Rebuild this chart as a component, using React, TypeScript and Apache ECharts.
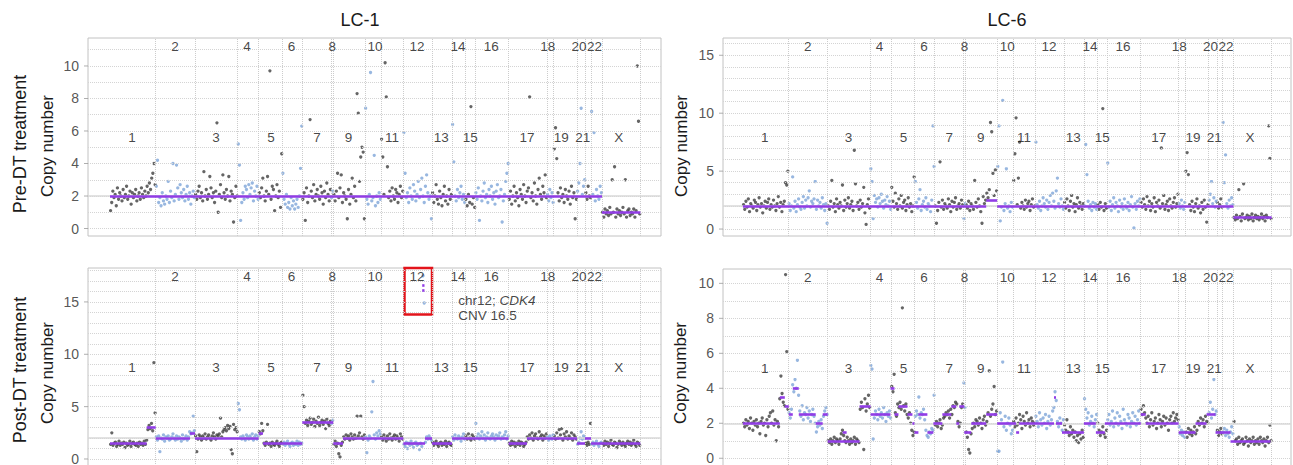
import React, { useEffect, useRef } from "react";
import * as echarts from "echarts";

const FONT = '"Liberation Sans", Arial, Helvetica, sans-serif';

// chromosome layout (bin index units along the genome)
const chromosomes = ["1","2","3","4","5","6","7","8","9","10","11","12","13","14","15","16","17","18","19","20","21","22","X"];
const chromEnds = [457, 850, 1277, 1487, 1723, 1923, 2210, 2233, 2550, 2710, 2933, 3220, 3420, 3553, 3653, 3987, 4370, 4437, 4670, 4753, 4810, 4920, 5303];
const labelPos = [220, 650, 1060, 1370, 1610, 1815, 2070, 2223, 2385, 2650, 2820, 3070, 3313, 3480, 3603, 3813, 4170, 4377, 4513, 4690, 4727, 4845, 5087];

// ---------- LC-1, Pre-DT treatment: copy number per bin, per chromosome ----------
const lc1Pre = [
  "1.1 1.6 2.3 1.9 2.1 1.4 2.5 1.8 2.2 2.0 1.7 2.4 1.9 2.1 2.6 1.8 2.0 2.3 1.5 2.2 1.9 2.1 2.4 1.7 2.0 2.2 1.8 2.5 2.1 1.9 2.3 2.0 2.6 2.2 2.8 2.4 3.1 3.4 4.0 2.7",
  "2.6 4.2 1.6 1.9 1.4 2.2 1.7 1.5 2.0 1.8 2.9 1.6 2.3 1.9 4.0 1.7 2.1 3.9 2.5 1.8 2.7 2.2 1.9 2.4 1.7 2.1 2.6 1.8 2.2 1.5 2.0 2.3 1.9",
  "2.1 1.8 2.3 2.6 1.9 2.2 1.7 3.5 2.0 2.4 1.8 2.1 3.2 2.5 1.9 2.2 1.6 2.3 6.5 1.0 2.1 2.7 1.9 3.3 2.2 1.8 2.4 2.0 3.2 1.7 2.3 2.1 0.4 1.9 2.6 2.0",
  "5.2 3.9 0.5 1.6 2.2 1.8 2.6 2.4 1.9 2.7 2.1 2.5 2.8 1.7 2.3 2.0 2.6 1.8",
  "2.2 1.9 2.5 3.1 2.0 1.7 2.3 3.2 2.1 9.7 1.8 2.6 2.4 1.1 2.0 2.7 1.9 2.3 1.3 4.6",
  "3.4 1.8 1.5 2.1 1.3 1.6 1.2 1.9 1.4 1.7 1.2 1.5 1.8 1.3 2.0 3.7 6.3",
  "1.8 2.2 0.5 2.5 1.6 2.0 6.7 2.3 1.9 2.7 1.7 2.1 2.4 2.0 1.8 2.6 2.2 1.5 2.3 1.9 2.8 2.1 1.7 2.4",
  "1.9 2.3",
  "2.1 1.7 2.3 3.4 1.9 2.5 3.3 1.6 2.2 2.0 1.8 0.6 2.4 1.5 2.1 3.1 1.9 2.6 1.7 8.3 7.1 2.9 4.4 5.0 4.7 0.6",
  "7.4 1.8 1.5 2.1 9.6 1.7 1.9 4.5 1.4 2.0 1.6 2.2 1.8",
  "5.5 4.4 2.1 10.2 8.1 3.8 1.9 2.3 1.7 2.5 2.0 1.8 2.4 2.2 1.6 2.1 2.6 1.9 2.3",
  "5.9 3.4 1.9 2.2 1.6 2.5 2.0 1.8 2.7 2.3 1.7 2.1 2.9 1.9 2.4 3.1 2.0 1.6 2.6 3.3 2.2 1.8 2.0 0.6",
  "2.2 1.6 2.0 2.7 1.8 1.5 2.3 1.9 1.4 2.1 2.6 1.7 2.0 1.5 2.4 1.8 2.1",
  "6.4 4.1 2.0 1.7 2.4 1.9 2.2 2.6 1.8 2.1 1.6",
  "1.8 1.4 2.1 1.6 7.5 1.5 1.9 1.3",
  "2.2 1.8 2.5 0.5 2.0 1.7 2.3 2.8 1.9 2.1 1.6 2.4 2.0 2.6 1.8 2.2 1.5 2.3 2.7 1.9 2.0 2.4 0.4 1.7 2.1 2.9 3.4 4.0",
  "1.8 2.3 1.5 2.0 2.6 1.7 2.2 1.9 1.4 2.4 2.1 1.8 2.7 2.0 1.6 2.3 2.5 8.1 1.9 2.2 1.7 2.8 2.0 1.5 2.4 3.1 2.1 1.8 2.6 2.2 3.3 1.9",
  "2.1 1.7 2.4 1.9 2.2 1.6",
  "4.9 6.2 4.3 2.2 1.7 2.5 1.9 2.1 1.6 2.4 2.0 1.8 2.3 1.5 2.6 1.9 2.2 0.6 1.8",
  "2.3 2.8 4.0 7.4 2.1 2.6 3.0",
  "2.2 1.8 2.6 2.0 1.9",
  "7.2 2.1 5.9 1.7 2.4 2.0 1.8 2.6 2.2",
  "1.0 0.7 1.2 0.9 1.1 0.8 1.3 0.9 3.0 1.0 3.8 0.7 1.2 0.9 1.1 0.8 1.0 1.3 0.9 3.0 0.7 1.1 1.2 0.8 1.0 0.9 1.2 0.7 1.1 10.0 6.6 0.9",
];
const lc1PreSegments = [[0, 4920, 2.0], [4920, 5303, 1.0]];

// ---------- LC-6, Pre-DT treatment ----------
const lc6Pre = [
  "2.1 1.7 2.4 1.9 2.6 1.5 2.2 2.0 1.8 2.5 2.3 1.6 2.1 2.7 1.9 2.2 1.4 2.0 2.4 1.8 2.3 2.6 1.7 2.1 1.9 2.5 2.0 1.6 2.2 2.8 1.9 2.3 1.5 2.1 2.4 4.0 3.8 5.0",
  "2.2 1.6 2.0 4.5 1.8 2.4 1.5 2.1 2.6 1.9 1.7 2.3 2.8 1.8 2.5 2.0 2.7 3.3 1.9 2.4 2.2 2.6 4.1 1.7 2.5 2.0 2.3 1.8 2.7 2.1 1.6 2.2 0.5",
  "2.0 1.7 2.4 4.2 1.9 2.2 1.5 2.6 2.1 1.8 2.3 2.0 3.8 1.6 2.5 1.9 2.2 2.7 1.8 2.1 2.4 1.6 6.8 3.9 2.0 2.3 1.7 2.5 1.9 2.2 3.6 1.4 0.4 2.1 2.6 1.8",
  "5.2 4.1 0.9 2.9 2.3 2.6 1.9 2.7 2.2 3.0 2.4 1.8 2.5 2.1 2.8 2.0 2.4 1.7",
  "3.6 2.4 1.9 3.1 2.2 1.7 2.6 2.0 2.9 1.8 2.3 2.5 1.6 2.1 2.7 1.9 2.2 1.5 2.0 4.5",
  "4.1 2.3 1.8 2.6 3.4 1.6 2.1 2.4 1.9 2.7 1.7 2.2 2.0 1.5 2.5 8.9 5.4",
  "2.0 0.5 1.6 2.3 5.8 1.9 2.5 1.7 2.2 2.0 1.8 2.6 2.1 1.5 2.4 1.9 2.3 2.7 1.7 2.0 2.2 1.8 2.5 2.1",
  "0.9 2.2",
  "2.1 1.8 2.4 1.6 2.2 2.0 1.7 4.2 2.3 1.9 2.6 2.0 1.5 0.5 2.8 2.2 2.5 3.1 2.7 3.4 9.2 8.4 4.8 2.9 5.1 3.3",
  "5.4 8.9 0.7 1.9 11.1 1.6 2.2 5.2 1.8 2.0 1.5 2.3 1.9",
  "4.2 6.5 9.6 2.1 4.4 7.5 1.8 2.3 2.0 1.7 2.5 1.9 2.2 2.4 1.6 2.1 2.6 1.9 2.0",
  "7.5 2.1 1.8 2.4 1.6 2.0 2.7 2.2 1.9 2.5 1.7 2.3 2.9 2.0 3.1 2.4 1.8 3.3 4.4 2.2 1.9 2.6 2.0 1.7",
  "2.3 1.8 2.6 2.0 1.6 2.4 2.9 1.9 2.2 1.5 2.1 2.7 1.8 2.3 2.0 1.7 2.2",
  "2.0 7.3 4.7 2.4 1.8 2.1 1.6 2.3 1.9 2.2 1.7",
  "2.1 1.7 2.3 1.9 10.4 1.6 2.2 1.8",
  "5.7 1.9 2.4 1.6 2.1 2.7 1.8 2.3 2.0 1.5 2.5 1.9 2.2 1.7 2.6 2.0 1.8 2.3 1.6 2.1 2.8 1.9 0.1 2.2 1.7 2.4 2.0 2.6",
  "2.3 1.9 2.6 2.1 1.7 2.8 2.0 2.4 1.6 2.2 1.9 2.7 1.5 2.3 2.0 2.5 1.8 7.0 2.2 2.9 1.7 2.1 2.4 1.6 2.6 2.0 1.8 2.3 2.7 1.9 2.2 3.0",
  "2.2 1.8 2.5 2.0 1.7 2.3",
  "5.0 6.6 4.7 2.1 1.6 2.4 1.9 1.5 2.2 2.6 1.8 2.0 1.4 2.3 1.7 2.5 1.9 0.6 2.1",
  "2.5 3.0 4.1 2.2 2.7 1.9 2.4",
  "2.3 1.8 2.1 2.6 1.9",
  "9.2 4.0 6.4 2.2 1.8 2.5 2.0 2.7 2.1",
  "1.0 0.8 1.2 0.9 3.4 1.1 0.7 1.3 3.9 0.9 1.0 1.2 0.8 1.1 0.9 1.3 0.7 1.0 1.2 0.9 1.1 0.8 1.0 1.3 0.9 1.1 0.7 1.2 1.0 8.9 6.1 0.9",
];
const lc6PreSegments = [[0, 2440, 2.0], [2440, 2550, 2.5], [2550, 4920, 2.0], [4920, 5303, 1.0]];

// ---------- LC-1, Post-DT treatment ----------
const lc1Post = [
  "1.4 2.5 1.3 1.5 1.6 1.2 1.4 1.7 1.3 1.5 1.4 1.6 1.1 1.5 1.3 1.4 1.7 1.2 1.5 1.6 1.4 1.3 1.5 1.2 1.6 1.4 1.5 1.3 1.7 1.4 1.8 2.8 3.2 2.9 3.4 2.7 9.2 4.4",
  "2.1 1.8 2.2 0.7 2.0 1.9 2.3 1.7 2.1 2.0 2.2 1.8 1.9 2.1 2.4 2.0 1.8 2.2 1.9 2.1 2.0 1.7 2.3 1.9 2.0 2.2 1.8 2.1 2.6 2.4 2.5 4.1 2.7",
  "2.2 0.7 1.9 2.3 2.1 1.8 2.2 2.0 2.4 1.9 2.1 2.3 2.0 1.8 2.2 2.5 2.1 1.9 2.3 2.2 2.4 3.9 2.1 2.6 2.8 3.0 2.7 3.2 2.9 3.1 0.9 0.5 3.3 2.8 3.0 2.6",
  "5.3 4.7 2.1 1.9 2.2 2.0 1.8 2.3 2.1 1.9 2.2 2.0 2.4 1.8 2.1 2.3 1.9 2.2",
  "2.6 2.4 3.4 2.7 1.5 1.3 1.6 3.3 1.4 1.5 1.2 1.6 1.4 1.3 1.5 1.7 1.4 1.2 1.5 1.6",
  "1.4 1.6 1.3 1.5 1.7 1.4 1.2 1.5 1.6 1.3 1.5 1.4 1.7 1.3 1.6 1.4 1.5",
  "6.1 5.0 3.4 3.7 3.2 3.6 3.9 3.3 3.5 3.8 3.1 3.6 3.4 4.0 3.2 3.5 3.7 3.3 3.6 2.9 3.8 3.4 3.2 3.6",
  "3.4 3.7",
  "1.4 1.7 1.2 1.5 0.5 0.2 1.3 1.6 2.1 1.9 2.3 2.0 2.2 1.8 2.4 2.1 1.9 2.3 2.0 4.1 2.2 2.5 4.1 2.1 1.9 2.3",
  "2.1 0.6 1.8 2.2 2.0 4.5 7.4 2.3 1.9 2.5 2.2 2.7 2.4",
  "2.1 1.8 2.3 2.0 1.7 2.2 1.9 2.4 2.0 1.8 2.1 2.3 1.9 2.2 2.0 1.7 2.4 2.1 1.9",
  "1.4 1.2 1.6 1.0 1.5 1.3 1.7 1.4 1.1 1.5 1.6 1.3 1.4 0.9 1.5 1.2 17.5 14.9 1.6 2.1 1.9 2.2 2.0 1.8",
  "1.6 1.3 1.5 1.7 1.4 1.2 1.5 1.6 1.3 1.5 1.4 1.7 1.2 1.5 1.6 1.4 1.3",
  "2.1 1.8 2.3 2.0 1.9 2.2 2.0 1.7 2.1 2.4 1.9",
  "2.2 1.9 2.4 2.0 1.8 2.3 2.1 1.9",
  "3.4 2.1 2.4 1.9 2.2 2.6 2.0 2.3 1.8 2.1 2.5 2.0 1.9 2.2 2.4 2.1 1.8 2.3 2.0 2.2 2.5 1.9 2.1 2.0 2.3 2.6 1.9 2.2",
  "1.5 1.3 1.7 1.4 1.6 1.2 1.5 1.4 1.7 1.3 1.6 1.5 1.2 1.4 1.6 2.1 1.9 2.3 2.0 2.5 1.8 2.2 2.4 2.0 1.9 2.6 2.1 2.3 1.8 2.2 2.0 2.4",
  "2.1 1.8 2.2 2.0 1.9 2.3",
  "2.2 1.9 2.5 2.0 2.8 2.3 2.9 1.8 2.4 2.1 2.6 1.9 2.2 2.0 2.5 1.8 2.3 2.1 1.9",
  "1.4 1.6 2.0 2.6 1.9 2.2 2.0",
  "1.5 1.3 1.6 1.4 3.4",
  "1.4 1.6 1.3 1.5 1.7 1.4 1.2 1.5 1.6",
  "1.5 1.3 1.7 1.4 1.6 1.2 1.5 1.8 1.4 1.3 1.6 1.5 1.1 1.4 1.7 1.5 1.3 1.6 1.4 1.2 1.5 1.7 1.4 1.6 1.3 1.5 1.8 1.4 1.2 1.6 1.5 1.3",
];
const lc1PostSegments = [
  [0, 367, 1.5], [367, 457, 3.0], [457, 800, 2.0], [800, 850, 2.5], [850, 1487, 2.0], [1487, 1530, 2.5],
  [1530, 1923, 1.5], [1923, 2233, 3.5], [2233, 2330, 1.5], [2330, 2933, 2.0], [2933, 3150, 1.5],
  [3150, 3220, 2.0], [3220, 3420, 1.5], [3420, 3987, 2.0], [3987, 4170, 1.5], [4170, 4670, 2.0],
  [4670, 4750, 1.5], [4750, 4810, 2.0], [4810, 5303, 1.5], [3122, 3145, 16.6], [3122, 3145, 16.1],
];

// ---------- LC-6, Post-DT treatment ----------
const lc6Post = [
  "2.0 1.8 2.2 1.9 2.1 1.7 2.3 2.0 1.6 2.1 1.9 2.2 1.8 2.0 1.4 2.1 2.3 1.9 2.0 1.3 2.2 1.8 2.4 2.6 2.0 2.7 1.9 2.2 1.0 2.1 1.8 3.4 4.7 3.7 3.2 3.0 10.5 6.1 2.8",
  "2.6 2.3 2.8 4.2 3.8 4.5 4.0 5.6 3.6 2.7 2.4 3.0 2.2 2.6 2.5 2.9 2.3 2.7 2.1 2.5 2.8 2.4 2.0 1.5 1.8 2.1 1.9 2.2 1.7 2.4 2.7 2.9 2.5",
  "1.0 0.9 1.1 0.8 1.0 1.2 0.9 1.1 1.0 0.8 1.1 1.4 1.6 1.3 1.0 0.9 1.2 1.0 0.8 1.1 0.9 1.0 1.2 0.8 1.1 1.0 0.9 2.8 3.2 2.9 0.5 3.4 2.7 3.1 3.6 2.9",
  "5.3 5.1 1.1 2.3 2.7 2.5 2.2 2.8 2.4 2.6 2.3 2.9 2.5 2.1 2.6 2.4 2.7 2.3",
  "4.1 3.8 4.8 2.6 2.4 3.1 2.9 3.2 2.8 8.6 3.0 2.7 3.1 2.5 2.3 2.6 2.0 1.6 1.3 1.5",
  "2.4 2.7 2.5 3.5 2.3 2.6 2.5 2.8 2.2 1.6 1.3 1.2 1.5 1.4 1.7 1.6 3.6",
  "1.9 2.1 1.8 2.0 2.2 1.7 1.9 2.3 2.4 2.6 2.5 2.7 2.3 2.8 2.5 3.0 2.9 3.2 3.1 2.1 1.8 2.0 2.9 3.1",
  "4.3 2.9",
  "1.5 1.2 0.5 0.3 1.4 1.7 2.0 1.8 2.2 2.1 1.9 2.3 2.0 1.7 2.2 2.4 1.9 2.1 2.6 5.0 2.4 2.8 3.1 4.1 2.5 2.7",
  "0.4 0.4 2.6 2.2 5.5 1.8 2.4 1.6 2.0 2.3 1.9 1.4 1.6",
  "2.1 1.8 2.3 1.9 2.0 2.5 2.2 1.7 2.4 2.1 1.9 2.6 2.0 2.2 1.8 2.3 2.1 1.9 2.0",
  "2.4 2.1 1.8 2.6 2.2 1.9 2.3 2.0 2.5 1.7 2.1 2.4 1.9 2.2 2.7 2.9 3.8 3.3 2.1 1.8 2.3 2.0 1.6 2.2",
  "1.9 1.6 2.2 1.5 1.3 1.8 1.4 1.6 1.2 1.5 1.0 1.3 0.9 1.4 1.1 1.6 1.2",
  "3.4 2.8 2.3 2.6 1.9 2.1 2.4 2.0 1.8 2.2 2.5",
  "2.0 1.6 1.3 1.5 1.8 1.4 1.2 1.6",
  "2.2 2.5 1.9 2.1 2.7 1.8 2.3 2.0 2.6 1.9 2.4 2.1 1.7 2.8 2.2 2.0 1.9 2.5 2.3 1.8 2.1 2.6 2.0 2.4 1.9 2.2 2.7 2.0",
  "2.8 2.5 3.0 2.6 2.3 2.0 2.4 1.8 2.2 2.6 1.9 2.1 2.3 1.7 2.0 2.5 2.2 1.8 2.1 2.4 1.9 2.3 2.0 1.6 2.2 2.4 2.0 2.6 2.1 2.3 2.5 2.2",
  "1.8 1.4 1.6 1.3 1.5 1.2",
  "1.5 1.2 1.7 1.4 1.6 1.3 1.5 1.8 1.4 1.6 2.1 1.9 2.3 2.0 2.2 1.8 2.4 2.1 2.0",
  "2.6 3.2 2.3 2.8 4.5 2.5 2.7",
  "1.6 1.3 1.5 1.7 1.4",
  "1.5 1.7 1.3 1.6 1.4 1.2 1.5 1.8 1.4",
  "2.1 1.0 1.1 0.8 1.2 0.9 1.0 1.1 0.8 0.9 1.2 1.0 0.7 1.1 0.9 1.0 1.2 0.8 1.0 0.9 1.1 0.8 1.2 1.0 0.9 1.1 0.7 1.0 1.2 0.9 1.9 1.0",
];
const lc6PostSegments = [
  [0, 370, 2.0], [370, 420, 3.5], [420, 460, 3.0], [460, 500, 2.5], [500, 560, 4.0], [560, 730, 2.5],
  [730, 800, 2.0], [800, 850, 2.5], [850, 1170, 1.0], [1000, 1040, 1.5], [1170, 1280, 3.0], [1280, 1480, 2.5],
  [1480, 1520, 4.0], [1520, 1560, 2.5], [1560, 1650, 3.0], [1650, 1700, 2.5], [1700, 1720, 2.0], [1720, 1760, 1.5],
  [1760, 1850, 2.5], [1850, 1910, 1.5], [1910, 2000, 2.0], [2000, 2090, 2.5], [2090, 2140, 3.0], [2140, 2170, 2.0],
  [2170, 2220, 3.0], [2220, 2290, 1.5], [2290, 2440, 2.0], [2440, 2550, 2.5], [2550, 2740, 2.0], [2740, 2770, 1.5],
  [2770, 3120, 2.0], [3120, 3140, 3.5], [3140, 3200, 2.0], [3200, 3420, 1.5], [3420, 3540, 2.0], [3540, 3630, 1.5],
  [3630, 3990, 2.0], [3990, 4040, 2.5], [4040, 4370, 2.0], [4370, 4540, 1.5], [4540, 4650, 2.0], [4650, 4740, 2.5],
  [4740, 4890, 1.5], [4890, 5290, 1.0],
];

const ticksSmall = [0, 2, 4, 6, 8, 10];
const ticksLarge = [0, 5, 10, 15];

const annotationLines = ["chr12; CDK4", "CNV 16.5"];
const cdk4Box = [2945, 3220, 13.8, 18.3];

const PURPLE = "#913ce6";
const DARK = "#3f3f3f";
const BLUE = "#7ea5d8";

const panels = [
  { values: lc1Pre, segs: lc1PreSegments, ticks: ticksSmall, yMin: -0.46, yMax: 11.72, xMin: -220, xMax: 5510, box: { left: 88, top: 38, width: 573, height: 198 } },
  { values: lc6Pre, segs: lc6PreSegments, ticks: ticksLarge, yMin: -0.6, yMax: 16.49, xMin: -200, xMax: 5497, box: { left: 723, top: 38, width: 568, height: 198 } },
  { values: lc1Post, segs: lc1PostSegments, ticks: ticksLarge, yMin: -0.67, yMax: 18.24, xMin: -220, xMax: 5510, box: { left: 88, top: 268, width: 573, height: 198 } },
  { values: lc6Post, segs: lc6PostSegments, ticks: ticksSmall, yMin: -0.5, yMax: 10.82, xMin: -200, xMax: 5497, box: { left: 723, top: 269, width: 568, height: 198 } },
];

function parse(s: string): number[] {
  return s.trim().split(/\s+/).map(Number);
}

function buildPoints(chromValues: string[]) {
  const dark: number[][] = [];
  const blue: number[][] = [];
  chromValues.forEach((s, c) => {
    const start = c === 0 ? 0 : chromEnds[c - 1];
    const end = chromEnds[c];
    const vals = parse(s);
    vals.forEach((v, i) => {
      const x = start + ((i + 0.5) * (end - start)) / vals.length;
      (c % 2 === 0 ? dark : blue).push([x, v]);
    });
  });
  return { dark, blue };
}

function buildOption() {
  const series: any[] = [];
  panels.forEach((p, k) => {
    const { dark, blue } = buildPoints(p.values);
    const gridVals: number[] = [];
    for (let v = 0; v <= Math.floor(p.yMax); v++) gridVals.push(v);
    series.push({
      type: "scatter", xAxisIndex: k, yAxisIndex: k, data: [], silent: true, z: 1,
      markLine: {
        silent: true, symbol: ["none", "none"], label: { show: false }, animation: false,
        data: [
          ...gridVals.map((v) => ({ yAxis: v, lineStyle: { type: "dotted", color: "#d4d4d4", width: 1 } })),
          ...chromEnds.map((v) => ({ xAxis: v, lineStyle: { type: "dotted", color: "#cccccc", width: 1 } })),
          { yAxis: 2, lineStyle: { type: "solid", color: "#d9d9d9", width: 1.5 } },
        ],
      },
    });
    series.push({ type: "scatter", xAxisIndex: k, yAxisIndex: k, data: dark, symbolSize: 3.3, itemStyle: { color: DARK }, silent: true, z: 2 });
    series.push({ type: "scatter", xAxisIndex: k, yAxisIndex: k, data: blue, symbolSize: 3.3, itemStyle: { color: BLUE }, silent: true, z: 2 });
    series.push({
      type: "scatter", xAxisIndex: k, yAxisIndex: k, data: [], silent: true, z: 3,
      markLine: {
        silent: true, symbol: ["none", "none"], label: { show: false }, animation: false,
        lineStyle: { type: "solid", color: PURPLE, width: 2.6 },
        data: p.segs.map((s) => [{ coord: [s[0], s[2]] }, { coord: [s[1], s[2]] }]),
      },
    });
    // y tick labels + tick marks
    series.push({
      type: "scatter", xAxisIndex: k, yAxisIndex: k, clip: false, silent: true, z: 4,
      symbol: "rect", symbolSize: [4, 1], symbolOffset: [-2, 0], itemStyle: { color: "#9a9a9a" },
      data: p.ticks.map((v) => [p.xMin, v]),
      label: { show: true, position: "left", distance: 5, formatter: (q: any) => String(q.value[1]), fontSize: 14, color: "#2a2a2a", fontFamily: FONT },
    });
    // chromosome labels
    const span = p.yMax - p.yMin;
    const evenY = p.yMax - 0.045 * span;
    const oddY = p.yMax - 0.505 * span;
    series.push({
      type: "scatter", xAxisIndex: k, yAxisIndex: k, clip: false, silent: true, z: 5,
      symbolSize: 1, itemStyle: { color: "rgba(0,0,0,0)" },
      data: chromosomes.map((name, i) => ({ name, value: [labelPos[i], i % 2 === 0 ? oddY : evenY] })),
      label: { show: true, position: "inside", formatter: "{b}", fontSize: 13.5, color: "#151515", fontFamily: FONT },
    });
    if (k === 2) {
      series.push({
        type: "scatter", xAxisIndex: k, yAxisIndex: k, clip: false, silent: true, z: 6,
        symbolSize: 1, itemStyle: { color: "rgba(0,0,0,0)" },
        data: [
          { value: [3477, 15.12], label: { formatter: "{r|chr12; }{i|CDK4}" } },
          { value: [3477, 13.66], label: { formatter: "{r|" + annotationLines[1] + "}" } },
        ],
        label: {
          show: true, position: "right", distance: 0,
          rich: {
            r: { fontSize: 13.5, color: "#151515", fontFamily: FONT },
            i: { fontSize: 13.5, color: "#151515", fontFamily: FONT, fontStyle: "italic" },
          },
        },
        markArea: {
          silent: true, label: { show: false },
          itemStyle: { color: "rgba(0,0,0,0)", borderColor: "#e3141b", borderWidth: 2.5 },
          data: [[{ coord: [cdk4Box[0], cdk4Box[3]] }, { coord: [cdk4Box[1], cdk4Box[2]] }]],
        },
      });
    }
  });

  const txt = (text: string, x: number, y: number, size: number, rotate = false) => ({
    type: "text", x, y, rotation: rotate ? Math.PI / 2 : 0, silent: true,
    style: { text, fontSize: size, fontFamily: FONT, fill: "#1a1a1a", textAlign: "center", textVerticalAlign: "middle", align: "center", verticalAlign: "middle" },
  });

  return {
    animation: false,
    backgroundColor: "#ffffff",
    textStyle: { fontFamily: FONT },
    grid: panels.map((p) => ({ ...p.box, show: true, borderColor: "#c2c2c2", borderWidth: 1, backgroundColor: "#ffffff", containLabel: false })),
    xAxis: panels.map((p, k) => ({ type: "value", gridIndex: k, min: p.xMin, max: p.xMax, show: false })),
    yAxis: panels.map((p, k) => ({ type: "value", gridIndex: k, min: p.yMin, max: p.yMax, show: false })),
    graphic: [
      txt("LC-1", 360, 20, 18),
      txt("LC-6", 1007, 20, 18),
      txt("Pre-DT treatment", 20, 144, 18, true),
      txt("Copy number", 47, 146, 17, true),
      txt("Copy number", 681, 146, 17, true),
      txt("Post-DT treatment", 20, 370, 18, true),
      txt("Copy number", 47, 373, 17, true),
      txt("Copy number", 680, 373, 17, true),
    ],
    series,
  };
}

export default function App() {
  const ref = useRef<HTMLDivElement>(null);
  useEffect(() => {
    if (!ref.current) return;
    const chart = echarts.init(ref.current, undefined, { renderer: "svg" });
    chart.setOption(buildOption() as any);
    return () => chart.dispose();
  }, []);
  return (
    <div
      ref={ref}
      style={{ position: "fixed", left: 0, top: 0, width: 1293, height: 480, background: "#ffffff" }}
    />
  );
}
